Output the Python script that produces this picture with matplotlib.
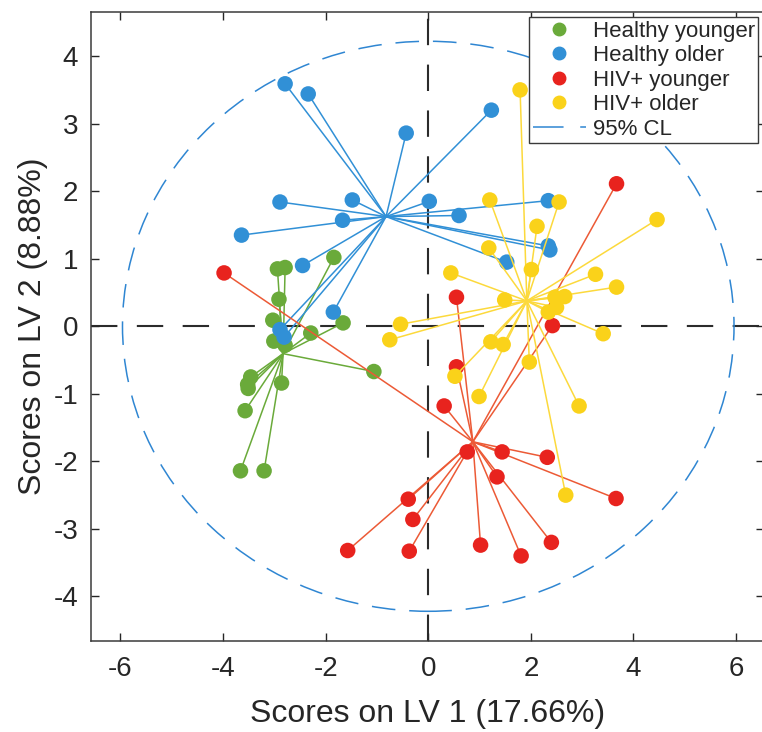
import matplotlib
matplotlib.use("Agg")
import matplotlib.pyplot as plt
import numpy as np
from matplotlib.patches import Ellipse
from matplotlib.lines import Line2D

plt.rcParams["font.family"] = ["Liberation Sans", "DejaVu Sans"]
plt.rcParams["lines.scale_dashes"] = False
plt.rcParams["axes.unicode_minus"] = False

# scores, one pair of lists per group
healthy_younger_x = [-1.84, -2.94, -2.79, -2.91, -3.03, -1.66, -2.29, -3.01, -2.79,
                     -1.06, -3.46, -3.52, -3.51, -2.86, -3.57, -3.66, -3.20]
healthy_younger_y = [1.02, 0.85, 0.87, 0.40, 0.09, 0.05, -0.10, -0.22, -0.28,
                     -0.67, -0.75, -0.86, -0.92, -0.84, -1.25, -2.14, -2.14]

healthy_older_x = [-2.79, -2.34, -0.43, 1.23, -2.89, -1.48, 0.02, 0.60, -1.67,
                   -3.64, 2.34, 2.34, 2.37, 1.53, -2.45, -1.85, -2.89, -2.81]
healthy_older_y = [3.59, 3.44, 2.86, 3.20, 1.84, 1.87, 1.85, 1.64, 1.57,
                   1.35, 1.86, 1.19, 1.13, 0.95, 0.90, 0.21, -0.05, -0.16]

hiv_younger_x = [-3.98, 3.67, 0.55, 2.42, 0.55, 0.31, 0.76, 1.44, 2.32,
                 1.34, 3.66, -0.39, -0.30, -0.37, 1.02, 1.81, 2.40, -1.57]
hiv_younger_y = [0.79, 2.11, 0.43, 0.01, -0.60, -1.18, -1.86, -1.86, -1.94,
                 -2.23, -2.55, -2.56, -2.86, -3.33, -3.24, -3.40, -3.20, -3.32]

hiv_older_x = [1.79, 1.20, 2.55, 2.12, 4.46, 1.18, 2.01, 0.44, 3.26, 3.67, 1.49,
               2.47, 2.66, 2.34, 2.50, -0.54, -0.75, 1.22, 1.46, 3.41, 1.97,
               0.52, 0.99, 2.94, 2.68]
hiv_older_y = [3.50, 1.87, 1.84, 1.48, 1.58, 1.16, 0.84, 0.79, 0.77, 0.58, 0.39,
               0.43, 0.44, 0.21, 0.28, 0.03, -0.20, -0.23, -0.27, -0.11, -0.53,
               -0.74, -1.04, -1.18, -2.50]

group_names = ["Healthy younger", "Healthy older", "HIV+ younger", "HIV+ older"]
ci_radius_x = 5.96
ci_radius_y = 4.22

groups = [
    (healthy_younger_x, healthy_younger_y, "#6aaa3a", "#6aaa3a"),
    (healthy_older_x, healthy_older_y, "#3190d6", "#3190d6"),
    (hiv_younger_x, hiv_younger_y, "#e8231e", "#ec5a36"),
    (hiv_older_x, hiv_older_y, "#fad21a", "#fcd93c"),
]

fig = plt.figure(figsize=(7.62, 7.32), dpi=100)
ax = fig.add_axes([0.119, 0.1243, 0.884, 0.859])

ax.axhline(0, color="#2b2b2b", lw=1.5, dashes=(19, 14), zorder=1)
ax.axvline(0, color="#2b2b2b", lw=1.5, dashes=(19, 14), zorder=1)

ellipse = Ellipse((0, 0), 2 * ci_radius_x, 2 * ci_radius_y, fill=False,
                  edgecolor="#2f86d2", lw=1.1, zorder=1)
ellipse.set_linestyle((0, (17, 10)))
ax.add_patch(ellipse)

for i, (xs, ys, dot_color, line_color) in enumerate(groups):
    cx, cy = np.mean(xs), np.mean(ys)
    for x, y in zip(xs, ys):
        ax.plot([cx, x], [cy, y], color=line_color, lw=1.1, zorder=2 + 2 * i)
    ax.scatter(xs, ys, s=125, color=dot_color, edgecolors="none", zorder=3 + 2 * i)

ax.set_xlim(-6.58, 6.55)
ax.set_ylim(-4.66, 4.65)
ax.set_xticks([-6, -4, -2, 0, 2, 4, 6])
ax.set_yticks([-4, -3, -2, -1, 0, 1, 2, 3, 4])
ax.tick_params(direction="in", length=6, width=1, top=True, right=True,
               labelsize=20, colors="#262626")
ax.tick_params(axis="x", pad=11)
ax.tick_params(axis="y", pad=9)
for spine in ax.spines.values():
    spine.set_color("#3a3a3a")
    spine.set_linewidth(1.1)

ax.set_xlabel("Scores on LV 1 (17.66%)", fontsize=23, color="#262626", labelpad=12)
ax.set_ylabel("Scores on LV 2 (8.88%)", fontsize=23, color="#262626", labelpad=4)

handles = [Line2D([], [], marker="o", linestyle="none", markersize=9,
                  color=g[2]) for g in groups]
handles.append(Line2D([], [], color="#2f86d2", lw=1.1, dashes=(22, 12)))
leg = ax.legend(handles, group_names + ["95% CL"], loc="upper right",
                bbox_to_anchor=(0.991, 0.992), fontsize=16, handlelength=2.4,
                handletextpad=0.3, labelspacing=0.16, borderpad=0.15,
                borderaxespad=0.0, fancybox=False, framealpha=1)
leg.get_frame().set_edgecolor("#3a3a3a")
leg.get_frame().set_linewidth(1.0)
for t in leg.get_texts():
    t.set_color("#262626")

fig.savefig("out.png", dpi=100)
